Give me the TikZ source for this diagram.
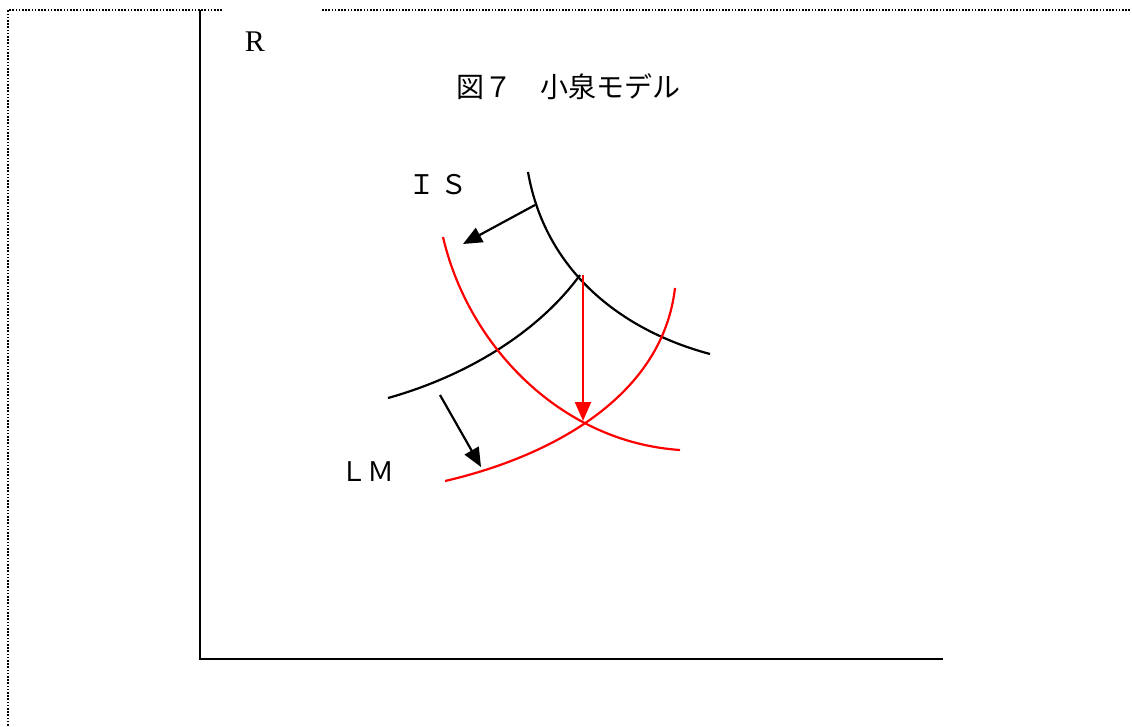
\documentclass[tikz,border=0pt]{standalone}
\usepackage{fontspec}
\setmainfont{Liberation Serif}
\newfontfamily\jpfont{Noto Sans CJK JP}
\usetikzlibrary{arrows.meta}
\tikzset{
  frame/.style={line width=1.8pt, dash pattern=on 1.6pt off 1.6pt},
  axis/.style={line width=2.4pt},
  curveblk/.style={line width=2.2pt, black},
  curvered/.style={line width=2.2pt, red},
  shiftarrow/.style={line width=2.2pt, -{Triangle[length=19pt,width=16pt]}},
  lbl/.style={inner sep=0pt, font=\fontsize{30}{32}\selectfont},
  jlbl/.style={inner sep=0pt, font=\jpfont\fontsize{27}{30}\selectfont}
}
\begin{document}
\begin{tikzpicture}[x=1pt,y=-1pt]
\useasboundingbox (0,0) rectangle (1132,727);
% frame
\coordinate (f1) at (222,10);
\coordinate (f0) at (8,10);
\coordinate (fb) at (8,727);
\coordinate (f2) at (322,10);
\coordinate (f3) at (1132,10);
\draw[frame] (f1) -- (f0) -- (fb);
\draw[frame] (f2) -- (f3);
% axes
\coordinate (ytop) at (200,10);
\coordinate (org) at (200,659);
\coordinate (xend) at (943,659);
\draw[axis] (ytop) -- (org) -- (xend);
% labels
\node[lbl] (R) at (255,42) {R};
\node[jlbl, font=\jpfont\fontsize{28}{30}\selectfont] (title) at (568,87) {図７　小泉モデル};
\node[jlbl] (IS) at (438,185) {Ｉ\,Ｓ};
\node[jlbl] (LM) at (367,472) {ＬＭ};
% black IS
\coordinate (is1) at (528,172);
\coordinate (is2) at (710,354);
\draw[curveblk] (is1) .. controls (545,270) and (620,330) .. (is2);
% black LM
\coordinate (lm1) at (388,398);
\coordinate (lm2) at (580,275);
\draw[curveblk] (lm1) .. controls (470,375) and (540,330) .. (lm2);
% red IS
\coordinate (ris1) at (443,237);
\coordinate (ris2) at (680,450);
\draw[curvered] (ris1) .. controls (468,345) and (560,442) .. (ris2);
% red LM
\coordinate (rlm1) at (445,481);
\coordinate (rlm2) at (675,288);
\draw[curvered] (rlm1) .. controls (545,458) and (662,400) .. (rlm2);
% arrows
\coordinate (a1s) at (535,205);
\coordinate (a1e) at (463,244);
\draw[shiftarrow] (a1s) -- (a1e);
\coordinate (a2s) at (440,395);
\coordinate (a2e) at (481,467);
\draw[shiftarrow] (a2s) -- (a2e);
\coordinate (a3s) at (583,275);
\coordinate (a3e) at (583,421);
\draw[shiftarrow, red] (a3s) -- (a3e);
\end{tikzpicture}
\end{document}
